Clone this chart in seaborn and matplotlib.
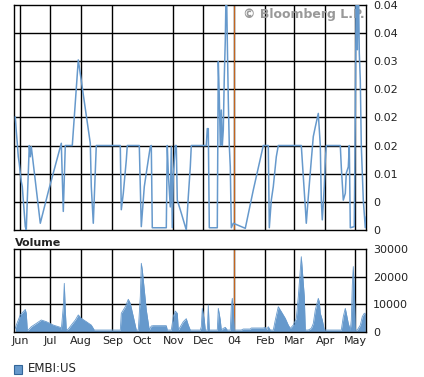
"""
EMBI:US price + volume panel, Bloomberg style.
"""
import numpy as np
import pandas as pd
import matplotlib
matplotlib.use("Agg")
import matplotlib.pyplot as plt
import seaborn as sns

# ── data ─────────────────────────────────────────────────────────────────────
START = pd.Timestamp("2003-05-26")

price_day = [1, 2, 3, 4, 5, 6, 7, 8, 9, 10, 11, 12, 13, 14, 15, 16, 17, 26, 34,
             47, 49, 51, 58, 64, 76, 77, 79, 82, 106, 107, 109, 112, 113, 125,
             127, 130, 132, 136, 137, 138, 152, 153, 154, 156, 157, 158, 159,
             161, 162, 163, 167, 172, 174, 176, 177, 192, 193, 194, 195, 203,
             204, 205, 206, 207, 208, 209, 210, 211, 212, 213, 214, 215, 216,
             217, 219, 231, 239, 249, 254, 255, 257, 259, 262, 264, 287, 289,
             291, 292, 294, 297, 299, 301, 304, 306, 307, 308, 310, 311, 312,
             326, 327, 329, 331, 332, 334, 335, 336, 340, 341, 342, 343, 344,
             345, 346, 347, 349, 351, 352]
price_val = [0.0201, 0.0175, 0.0154, 0.0130, 0.0118, 0.0101, 0.0086, 0.0077,
             0.0053, 0.0030, 0.0006, 0.0, 0.0053, 0.0101, 0.0150, 0.0130,
             0.0148, 0.0012, 0.0068, 0.0154, 0.0033, 0.0150, 0.0150, 0.0302,
             0.0154, 0.0077, 0.0012, 0.0150, 0.0150, 0.0036, 0.0065, 0.0124,
             0.0150, 0.0150, 0.0006, 0.0077, 0.0101, 0.0148, 0.0150, 0.0004,
             0.0004, 0.0150, 0.0101, 0.0041, 0.0148, 0.0004, 0.0095, 0.0150,
             0.0150, 0.0053, 0.0030, 0.0, 0.0059, 0.0112, 0.0150, 0.0150,
             0.0180, 0.0180, 0.0004, 0.0004, 0.0299, 0.0237, 0.0150, 0.0213,
             0.0150, 0.0178, 0.0272, 0.0337, 0.0450, 0.0337, 0.0231, 0.0150,
             0.0112, 0.0004, 0.0012, 0.0003, 0.0071, 0.0150, 0.0150, 0.0004,
             0.0053, 0.0077, 0.0130, 0.0150, 0.0150, 0.0095, 0.0041, 0.0012,
             0.0059, 0.0124, 0.0166, 0.0183, 0.0207, 0.0150, 0.0053, 0.0018,
             0.0077, 0.0124, 0.0150, 0.0150, 0.0112, 0.0053, 0.0065, 0.0101,
             0.0112, 0.0150, 0.0004, 0.0006, 0.0207, 0.0450, 0.0320, 0.0450,
             0.0314, 0.0266, 0.0150, 0.0053, 0.0004, 0.0024]

vol_day = [1, 2, 4, 6, 9, 11, 12, 13, 14, 17, 22, 27, 32, 39, 46, 47, 49, 50,
           51, 52, 54, 57, 61, 64, 67, 72, 77, 80, 106, 107, 111, 114, 116,
           119, 122, 124, 126, 127, 128, 130, 132, 135, 137, 139, 152, 153,
           157, 159, 161, 163, 164, 166, 169, 172, 174, 176, 186, 187, 188,
           190, 191, 193, 194, 195, 203, 204, 206, 207, 209, 211, 213, 216,
           217, 218, 219, 220, 227, 229, 236, 237, 249, 251, 252, 254, 256,
           259, 261, 264, 267, 271, 274, 276, 279, 282, 284, 286, 287, 288,
           290, 291, 294, 297, 299, 301, 304, 305, 306, 308, 310, 327, 329,
           331, 332, 334, 336, 337, 338, 339, 340, 341, 343, 346, 348, 350, 351]
vol_val = [1200, 2400, 4250, 6100, 7300, 8100, 6700, 600, 600, 1800, 3000,
           4250, 3650, 2400, 1600, 850, 9100, 17600, 7900, 600, 970, 2400,
           4250, 6100, 4860, 3650, 2400, 600, 600, 6700, 9100, 11800, 10300,
           5500, 600, 600, 12800, 24900, 22500, 15200, 7900, 600, 2070, 2190,
           2190, 600, 600, 5500, 7500, 6700, 600, 1800, 3650, 4740, 2400, 600,
           600, 1800, 8500, 4250, 600, 600, 9700, 600, 600, 8500, 4250, 600,
           1200, 1580, 600, 600, 9100, 12150, 7900, 600, 600, 970, 970, 1340,
           1340, 1580, 600, 1800, 600, 600, 4250, 9100, 7300, 4860, 2400,
           1200, 2400, 4860, 12760, 22500, 27300, 22500, 12760, 600, 600,
           1200, 3000, 7900, 12150, 10900, 6700, 4250, 600, 600, 5500, 8500,
           6700, 3000, 600, 4250, 17000, 23700, 15800, 600, 600, 2400, 5500,
           6700, 6700]

month_starts = ["2003-06-01", "2003-07-01", "2003-08-01", "2003-09-01",
                "2003-10-01", "2003-11-01", "2003-12-01", "2004-01-01",
                "2004-02-01", "2004-03-01", "2004-04-01", "2004-05-01"]
month_labels = ["Jun", "Jul", "Aug", "Sep", "Oct", "Nov", "Dec", "04",
                "Feb", "Mar", "Apr", "May"]
price_ticks = [0, 0.005, 0.01, 0.015, 0.02, 0.025, 0.03, 0.035, 0.04]
price_labels = ["0", "0", "0.01", "0.02", "0.02", "0.02", "0.03", "0.04", "0.04"]
vol_ticks = [0, 10000, 20000, 30000]
vol_labels = ["0", "10000", "20000", "30000"]

# ── frames ───────────────────────────────────────────────────────────────────
price = pd.DataFrame({"date": START + pd.to_timedelta(price_day, unit="D"),
                      "value": price_val})
vol = pd.DataFrame({"date": START + pd.to_timedelta(vol_day, unit="D"),
                    "volume": vol_val})
ticks = pd.to_datetime(month_starts)
year_mark = pd.Timestamp("2004-01-01")

BLUE = "#6699cc"
ORANGE = "#c4651e"

sns.set_theme(style="white")
plt.rcParams["font.family"] = ["DejaVu Sans"]

fig = plt.figure(figsize=(4.24, 3.77), dpi=100)
ax1 = fig.add_axes([0.0337, 0.3899, 0.8295, 0.5976])
ax2 = fig.add_axes([0.0337, 0.1202, 0.8295, 0.2186])

xmin, xmax = START, START + pd.Timedelta(days=351.7)

for ax in (ax1, ax2):
    ax.set_xlim(xmin, xmax)
    for t, lab in zip(ticks, month_labels):
        if lab != "Oct":
            ax.axvline(t, color="black", lw=1.0, zorder=1)
    ax.axvline(year_mark, color=ORANGE, lw=0.8, zorder=1.5)
    for s in ax.spines.values():
        s.set_color("black")
        s.set_linewidth(1.0)
    ax.yaxis.tick_right()
    ax.tick_params(axis="both", length=0, labelsize=8, colors="#222222",
                   pad=5)

# price panel
sns.lineplot(data=price, x="date", y="value", ax=ax1, color=BLUE, lw=1.1,
             estimator=None, zorder=3)
ax1.set_ylim(0, 0.04)
ax1.set_yticks(price_ticks)
ax1.set_yticklabels(price_labels)
for v in price_ticks[1:-1]:
    ax1.axhline(v, color="black", lw=1.0, zorder=1)
ax1.set_xticks(ticks)
ax1.set_xticklabels([])
ax1.set_xlabel("")
ax1.set_ylabel("")
ax1.text(0.997, 0.955, "\u00a9 Bloomberg L.P.", transform=ax1.transAxes,
         ha="right", va="center", fontsize=9, fontweight="bold",
         color="#999999", zorder=2)

# volume panel
ax2.fill_between(vol["date"], 0, vol["volume"], color=BLUE, lw=0, zorder=2)
sns.lineplot(data=vol, x="date", y="volume", ax=ax2, color=BLUE, lw=0.6,
             estimator=None, zorder=2)
ax2.set_ylim(0, 30000)
ax2.set_yticks(vol_ticks)
ax2.set_yticklabels(vol_labels)
for v in vol_ticks[1:-1]:
    ax2.axhline(v, color="black", lw=1.0, zorder=1)
ax2.set_xticks(ticks)
ax2.set_xticklabels(month_labels)
ax2.tick_params(axis="x", pad=3)
ax2.set_xlabel("")
ax2.set_ylabel("")

fig.text(15 / 424, 1 - 243 / 377, "Volume", ha="left", va="center",
         fontsize=8, fontweight="bold", color="#222222")

# legend
fig.patches.append(plt.Rectangle((14 / 424, 1 - 374 / 377), 8 / 424, 9 / 377,
                                 transform=fig.transFigure, facecolor=BLUE,
                                 edgecolor="#336699", lw=0.8))
fig.text(28 / 424, 1 - 369 / 377, "EMBI:US", ha="left", va="center",
         fontsize=8.5, color="#222222")

fig.savefig("out.png", dpi=100)
plt.close()
